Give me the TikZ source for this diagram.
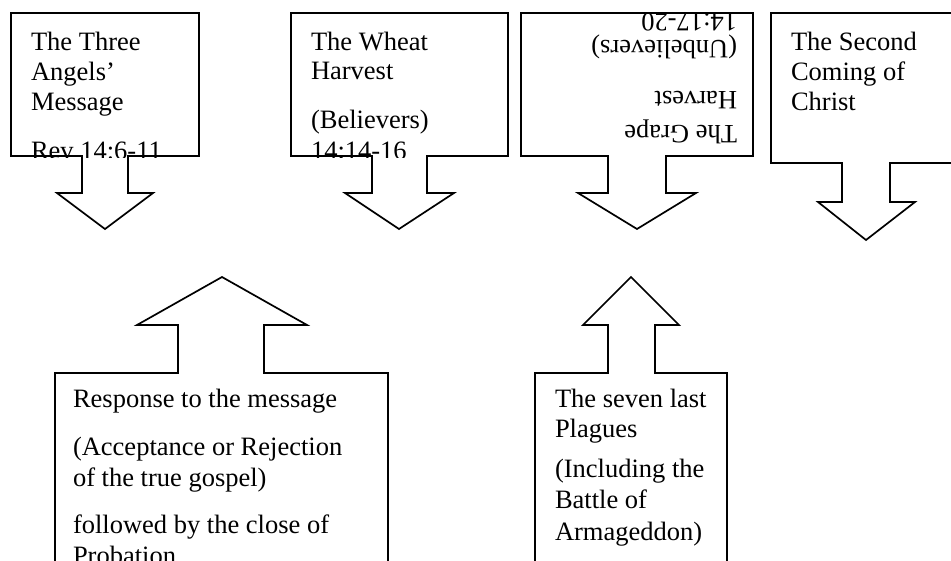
\documentclass[tikz,border=0pt]{standalone}
\usepackage{fontspec}
\setmainfont{Liberation Serif}
\begin{document}
\begin{tikzpicture}[x=1pt,y=-1pt,
  shapeline/.style={draw=black,line width=1.7pt,line join=miter},
  txt/.style={anchor=base west,inner sep=0pt,outer sep=0pt,text=black,
    font=\fontsize{26.5}{30}\selectfont},
  rtxt/.style={txt,rotate=180}]
\useasboundingbox (0,0) rectangle (951,560);
\clip (0,0) rectangle (951,560);

% ---------- Box 1: The Three Angels' Message ----------
\begin{scope}
\clip (11,13) rectangle (199,157);
\node[txt] (a1) at (31,50) {The Three};
\node[txt] (a2) at (31,80) {Angels’};
\node[txt] (a3) at (31,110) {Message};
\node[txt] (a4) at (31,159) {Rev 14:6-11};
\end{scope}
\draw[shapeline] (11,13) -- (199,13) -- (199,156) -- (128,156) -- (128,193)
  -- (153,193) -- (105,229) -- (57,193) -- (82,193) -- (82,156) -- (11,156) -- cycle;

% ---------- Box 2: The Wheat Harvest ----------
\begin{scope}
\clip (291,13) rectangle (508,157);
\node[txt] (b1) at (311,50) {The Wheat};
\node[txt] (b2) at (311,79) {Harvest};
\node[txt] (b3) at (311,128) {(Believers)};
\node[txt] (b4) at (311,159) {14:14-16};
\end{scope}
\draw[shapeline] (291,13) -- (508,13) -- (508,156) -- (427,156) -- (427,193)
  -- (454,193) -- (399,229) -- (345,193) -- (372,193) -- (372,156) -- (291,156) -- cycle;

% ---------- Box 3: The Grape Harvest (upside down) ----------
\begin{scope}
\clip (521,12) rectangle (753,156);
\node[rtxt] (c1) at (737,125) {The Grape};
\node[rtxt] (c2) at (737,91) {Harvest};
\node[rtxt] (c3) at (737,40) {(Unbelievers)};
\node[rtxt] (c4) at (737,13) {14:17-20};
\end{scope}
\draw[shapeline] (521,13) -- (753,13) -- (753,156) -- (666,156) -- (666,193)
  -- (696,193) -- (637,229) -- (578,193) -- (608,193) -- (608,156) -- (521,156) -- cycle;

% ---------- Box 4: The Second Coming of Christ ----------
\begin{scope}
\clip (771,13) rectangle (960,164);
\node[txt] (d1) at (791,50) {The Second};
\node[txt] (d2) at (791,80) {Coming of};
\node[txt] (d3) at (791,110) {Christ};
\end{scope}
\draw[shapeline] (965,13) -- (771,13) -- (771,163) -- (842,163) -- (842,202)
  -- (818,202) -- (866,240) -- (915,202) -- (890,202) -- (890,163) -- (965,163);

% ---------- Box 5: Response to the message ----------
\begin{scope}
\clip (55,373) rectangle (388,600);
\node[txt] (e1) at (73,407) {Response to the message};
\node[txt] (e2) at (73,455) {(Acceptance or Rejection};
\node[txt] (e3) at (73,486) {of the true gospel)};
\node[txt] (e4) at (73,533) {followed by the close of};
\node[txt] (e5) at (73,564) {Probation};
\end{scope}
\draw[shapeline] (55,600) -- (55,373) -- (178,373) -- (178,325) -- (137,325)
  -- (222,277) -- (307,325) -- (264,325) -- (264,373) -- (388,373) -- (388,600);

% ---------- Box 6: The seven last Plagues ----------
\begin{scope}
\clip (535,373) rectangle (727,600);
\node[txt] (f1) at (555,407) {The seven last};
\node[txt] (f2) at (555,437) {Plagues};
\node[txt] (f3) at (555,477) {(Including the};
\node[txt] (f4) at (555,508) {Battle of};
\node[txt] (f5) at (555,540) {Armageddon)};
\end{scope}
\draw[shapeline] (535,600) -- (535,373) -- (608,373) -- (608,325) -- (583,325)
  -- (631,277) -- (679,325) -- (655,325) -- (655,373) -- (727,373) -- (727,600);
\end{tikzpicture}
\end{document}
